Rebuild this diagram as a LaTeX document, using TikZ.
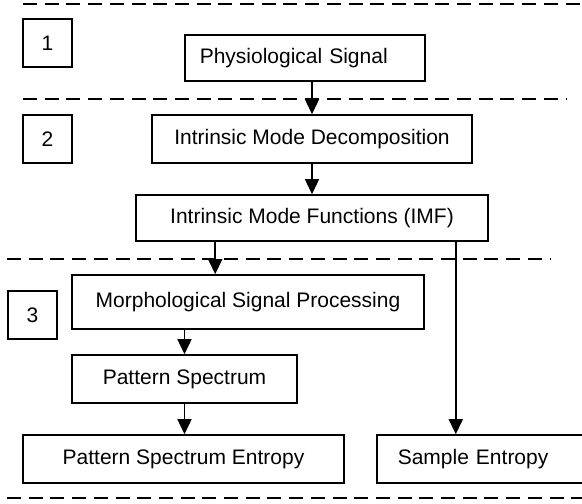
\documentclass[tikz,border=0pt]{standalone}
\usepackage{fontspec}
\setmainfont{Liberation Sans}
\usetikzlibrary{arrows.meta}
\begin{document}
\begin{tikzpicture}[x=1pt,y=-1pt,
  every node/.style={font=\fontsize{21}{25}\selectfont},
  box/.style={draw=black, line width=1.6pt, inner sep=0pt, minimum height=48pt},
  numbox/.style={box, minimum width=49pt},
  sep/.style={line width=1.5pt, dash pattern=on 14pt off 7.7pt},
  arr/.style={line width=1.5pt, -{Triangle[length=15pt,width=14pt]}}]
\useasboundingbox (0,0) rectangle (582,504);
% separators
\draw[sep] (23,4) -- (582,4);
\draw[sep] (23,99) -- (567,99);
\draw[sep] (7,259) -- (550,259);
\draw[sep] (7,498) -- (582,498);
% stage numbers
\node[numbox] (n1) at (47.5,43) {1};
\node[numbox] (n2) at (47.5,139) {2};
\node[numbox] (n3) at (32.5,315) {3};
% process boxes
\node[box, anchor=west, minimum height=46pt, inner xsep=15pt, text width=210pt, align=left] (phys) at (184,58) {Physiological Signal};
\node[box, minimum width=320pt] (imd) at (312,139) {Intrinsic Mode Decomposition};
\node[box, minimum width=352pt, minimum height=46pt] (imf) at (312,218) {Intrinsic Mode Functions (IMF)};
\node[box, minimum width=352pt, minimum height=54pt] (morph) at (248,302) {Morphological Signal Processing};
\node[box, minimum width=225pt] (pat) at (184.5,379) {Pattern Spectrum};
\node[box, minimum width=321pt] (pse) at (183.5,459) {Pattern Spectrum Entropy};
\node[box, anchor=west, inner xsep=21pt, text width=172pt, align=left] (samp) at (376,459) {Sample Entropy};
% connectors
\draw[arr] (imd.north |- phys.south) -- (imd.north);
\draw[arr] (imd.south) -- (imf.north);
\draw[arr] ([xshift=80pt]imf.south west) -- ([xshift=144pt]morph.north west);
\draw[arr] (pat.north |- morph.south) -- (pat.north);
\draw[arr] (pat.south) -- (pat.south |- pse.north);
\draw[arr] ([xshift=-33pt]imf.south east) -- ([xshift=-33pt]imf.south east |- samp.north);
\end{tikzpicture}
\end{document}
